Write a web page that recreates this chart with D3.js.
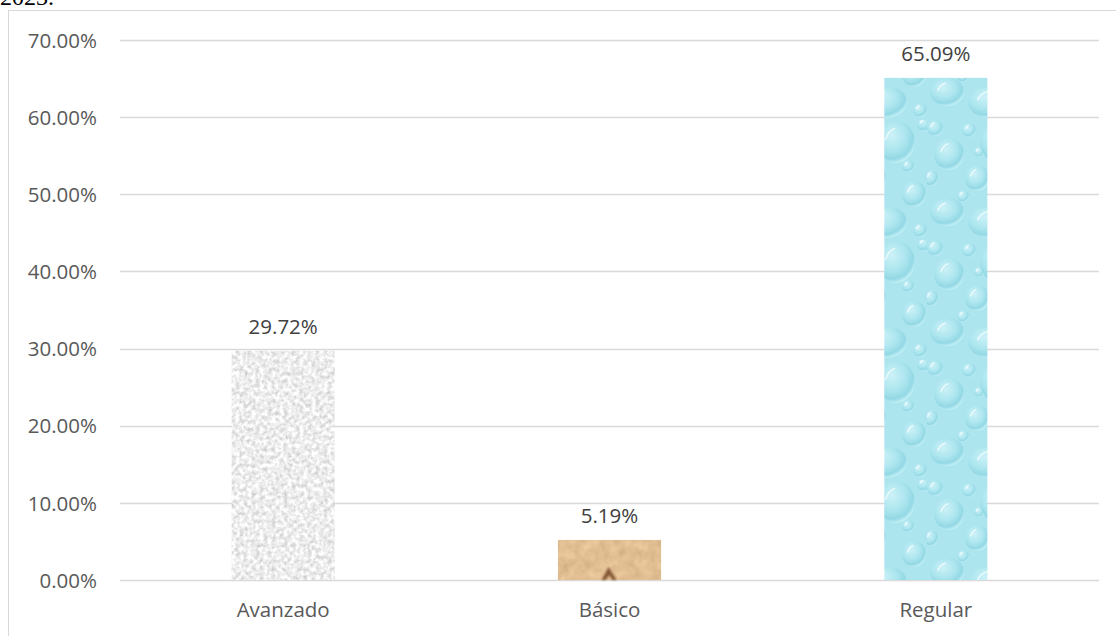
<!DOCTYPE html>
<html>
<head>
<meta charset="utf-8">
<script src="https://cdn.jsdelivr.net/npm/d3@7"></script>
<style>
  html, body { margin: 0; padding: 0; background: #ffffff; }
  svg { display: block; }
</style>
</head>
<body>
<svg id="chart" width="1116" height="636"></svg>
<script>
// ---- data ----
const categories = ["Avanzado", "Básico", "Regular"];
const values = [0.2972, 0.0519, 0.6509];
const valueLabels = ["29.72%", "5.19%", "65.09%"];
const yTicks = [0, 0.1, 0.2, 0.3, 0.4, 0.5, 0.6, 0.7];

const svg = d3.select("#chart");
const defs = svg.append("defs");

// ---- textures ----
// granite (light gray)
const fGranite = defs.append("filter").attr("id", "granite")
  .attr("color-interpolation-filters", "sRGB")
  .attr("x", 0).attr("y", 0).attr("width", 1).attr("height", 1);
fGranite.append("feTurbulence").attr("type", "fractalNoise")
  .attr("baseFrequency", 0.25).attr("numOctaves", 3).attr("seed", 4).attr("result", "n");
fGranite.append("feColorMatrix").attr("in", "n").attr("type", "matrix")
  .attr("values", "0.38 0 0 0 0.74  0.38 0 0 0 0.74  0.38 0 0 0 0.74  0 0 0 0 1").attr("result", "g");
fGranite.append("feComposite").attr("in", "g").attr("in2", "SourceGraphic").attr("operator", "in");

// sand / paper (tan)
const fSand = defs.append("filter").attr("id", "sand")
  .attr("color-interpolation-filters", "sRGB")
  .attr("x", 0).attr("y", 0).attr("width", 1).attr("height", 1);
fSand.append("feTurbulence").attr("type", "fractalNoise")
  .attr("baseFrequency", 0.1).attr("numOctaves", 3).attr("seed", 2).attr("result", "n");
fSand.append("feColorMatrix").attr("in", "n").attr("type", "matrix")
  .attr("values", "0.15 0 0 0 0.81  0.15 0 0 0 0.67  0.15 0 0 0 0.5  0 0 0 0 1").attr("result", "g");
fSand.append("feComposite").attr("in", "g").attr("in2", "SourceGraphic").attr("operator", "in");

const fBlur = defs.append("filter").attr("id", "soft");
fBlur.append("feGaussianBlur").attr("stdDeviation", 1.2);

// water drops (cyan)
const dropGrad = defs.append("radialGradient").attr("id", "dropGrad")
  .attr("cx", "40%").attr("cy", "35%").attr("r", "65%");
dropGrad.append("stop").attr("offset", "0%").attr("stop-color", "#d8f6fb");
dropGrad.append("stop").attr("offset", "55%").attr("stop-color", "#ace6ef");
dropGrad.append("stop").attr("offset", "85%").attr("stop-color", "#88d3e1");
dropGrad.append("stop").attr("offset", "100%").attr("stop-color", "#c6f1f7");

const pat = defs.append("pattern").attr("id", "drops")
  .attr("patternUnits", "userSpaceOnUse").attr("width", 103).attr("height", 120);
pat.append("rect").attr("width", 103).attr("height", 120).attr("fill", "#ade5ee");
const dropsSpec = [
  [72, 22, 19, 21], [22, 34, 15, 16], [50, 58, 12, 13], [90, 74, 12, 13], [20, 92, 17, 14],
  [62, 102, 21, 16], [8, 8, 8, 8], [42, 10, 7, 7], [96, 110, 7, 7], [36, 76, 6, 6],
  [84, 46, 6, 6], [4, 58, 7, 8], [100, 4, 7, 7], [52, 32, 5, 5]
];
pat.selectAll("ellipse").data(dropsSpec).join("ellipse")
  .attr("cx", d => d[0]).attr("cy", d => d[1]).attr("rx", d => d[2]).attr("ry", d => d[3])
  .attr("fill", "url(#dropGrad)").attr("opacity", 0.7);
pat.selectAll("path.hl").data(dropsSpec).join("path").attr("class", "hl")
  .attr("d", d => `M${d[0] - d[2] * 0.55},${d[1] - d[3] * 0.1} q${d[2] * 0.15},-${d[3] * 0.45} ${d[2] * 0.5},-${d[3] * 0.55}`)
  .attr("stroke", "#ffffff").attr("stroke-width", 1.5).attr("fill", "none").attr("opacity", 0.7);

const fills = ["granite", "sand", "drops"];

// ---- layout ----
const x = d3.scaleBand().domain(categories).range([120, 1099]).paddingInner(0.684).paddingOuter(0.342);
const y = d3.scaleLinear().domain([0, 0.7]).range([580, 40]);

// top-left caption fragment (cut off at the top, as in the source)
svg.append("text").attr("x", 0).attr("y", 5)
  .attr("font-family", "Liberation Serif, serif").attr("font-size", 24).attr("fill", "#000")
  .text("2023.");

// chart border (right and bottom edges fall outside the picture)
svg.append("rect").attr("x", 8.5).attr("y", 10.5).attr("width", 1110).attr("height", 640)
  .attr("fill", "none").attr("stroke", "#d9d9d9").attr("stroke-width", 1);

// gridlines
svg.append("g").selectAll("line").data(yTicks).join("line")
  .attr("x1", 120).attr("x2", 1099)
  .attr("y1", d => Math.round(y(d)) + 0.5).attr("y2", d => Math.round(y(d)) + 0.5)
  .attr("stroke", "#d9d9d9").attr("stroke-width", 1.3);

// y axis labels
const yAxis = d3.axisLeft(y).tickValues(yTicks).tickSize(0).tickPadding(0)
  .tickFormat(d => (d * 100).toFixed(2) + "%");
const gy = svg.append("g").attr("transform", "translate(97,0)").call(yAxis);
gy.select(".domain").remove();
gy.selectAll("text").attr("font-family", "Open Sans, sans-serif").attr("font-size", 20.5)
  .attr("fill", "#595959").attr("dy", "0.35em");

// x axis labels
const xAxis = d3.axisBottom(x).tickSize(0).tickPadding(0);
const gx = svg.append("g").attr("transform", "translate(0,617)").call(xAxis);
gx.select(".domain").remove();
gx.selectAll("text").attr("font-family", "Open Sans, sans-serif").attr("font-size", 20.5)
  .attr("fill", "#595959").attr("dy", 0);

// bars
svg.append("g").selectAll("rect").data(categories).join("rect")
  .attr("x", d => x(d)).attr("width", x.bandwidth())
  .attr("y", (d, i) => y(values[i])).attr("height", (d, i) => y(0) - y(values[i]))
  .attr("fill", (d, i) => fills[i] === "drops" ? "url(#drops)" : (i === 0 ? "#ececec" : "#dcb892"))
  .attr("filter", (d, i) => fills[i] === "drops" ? null : `url(#${fills[i]})`);

// small dark mark on Básico texture
const bx = x("Básico") + x.bandwidth() / 2;
svg.append("path")
  .attr("d", `M${bx - 8},${y(0)} L${bx - 1},${y(0) - 13} L${bx + 7},${y(0)} L${bx + 3},${y(0)} L${bx},${y(0) - 5} L${bx - 4},${y(0)} Z`)
  .attr("fill", "#6e4020").attr("opacity", 0.8).attr("filter", "url(#soft)");

// value labels
svg.append("g").selectAll("text").data(categories).join("text")
  .attr("x", d => x(d) + x.bandwidth() / 2)
  .attr("y", (d, i) => y(values[i]) - 17)
  .attr("text-anchor", "middle")
  .attr("font-family", "Open Sans, sans-serif").attr("font-size", 20.5)
  .attr("fill", "#404040")
  .text((d, i) => valueLabels[i]);
</script>
</body>
</html>
